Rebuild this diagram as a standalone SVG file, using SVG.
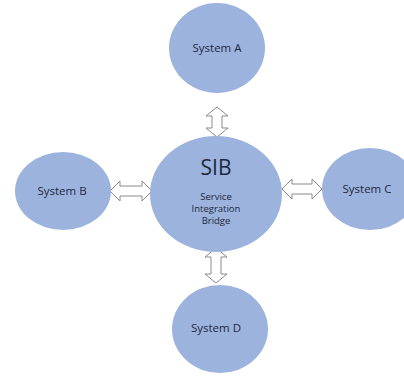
<svg xmlns="http://www.w3.org/2000/svg" width="404" height="376" viewBox="0 0 404 376">
<style>
.node{fill:#9cb3de;}
.lbl{font-family:"Open Sans",Lato,"Liberation Sans",sans-serif;fill:#1c2940;text-anchor:middle;}
.arr{fill:#ffffff;stroke:#8a8a8a;stroke-width:1;stroke-linejoin:miter;}
</style>
<rect width="404" height="376" fill="#ffffff"/>
<g id="connectors">
<path class="arr" d="M217,107 L228,116 L222,116 L222,128 L228,128 L217,137 L206,128 L212,128 L212,116 L206,116 Z"/>
<path class="arr" d="M216,248 L227,257 L221,257 L221,274 L227,274 L216,283 L205,274 L211,274 L211,257 L205,257 Z"/>
<path class="arr" d="M110,191 L120,181 L120,186 L142,186 L142,181 L152,191 L142,201 L142,196 L120,196 L120,201 Z"/>
<path class="arr" d="M282,189 L292,179 L292,184 L312,184 L312,179 L322,189 L312,199 L312,194 L292,194 L292,199 Z"/>
</g>
<g id="sib">
<ellipse class="node" cx="216" cy="194" rx="66" ry="58"/>
<text class="lbl" x="216" y="175" font-size="21">SIB</text>
<text class="lbl" x="216" y="200" font-size="9.5">Service</text>
<text class="lbl" x="216" y="212" font-size="9.5">Integration</text>
<text class="lbl" x="216" y="224" font-size="9.5">Bridge</text>
</g>
<g id="systemA">
<ellipse class="node" cx="217" cy="48" rx="48" ry="45"/>
<text class="lbl" x="217" y="52" font-size="11.5">System A</text>
</g>
<g id="systemB">
<ellipse class="node" cx="63" cy="191" rx="48" ry="39"/>
<text class="lbl" x="62" y="195" font-size="11.5">System B</text>
</g>
<g id="systemC">
<ellipse class="node" cx="370" cy="189" rx="48" ry="41"/>
<text class="lbl" x="367" y="193" font-size="11.5">System C</text>
</g>
<g id="systemD">
<ellipse class="node" cx="220" cy="329" rx="48" ry="44"/>
<text class="lbl" x="216" y="332" font-size="11.5">System D</text>
</g>
</svg>
